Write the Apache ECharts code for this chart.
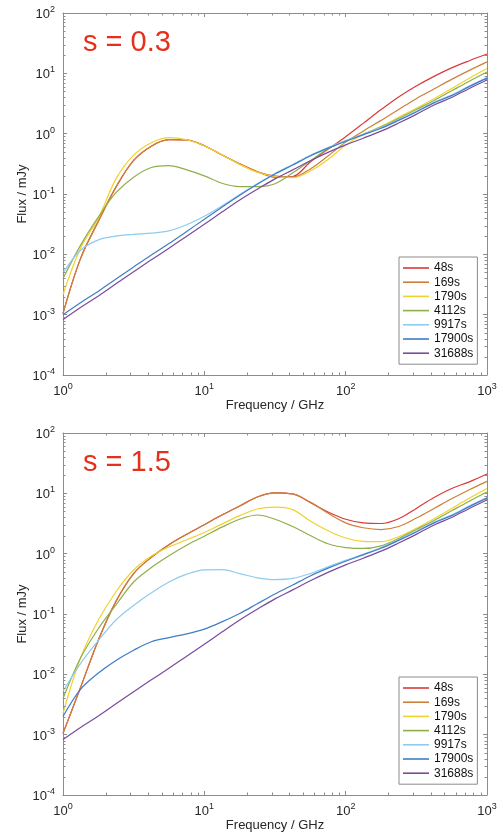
<!DOCTYPE html>
<html><head><meta charset="utf-8">
<script src="https://cdn.jsdelivr.net/npm/echarts@6/dist/echarts.min.js"></script>
<style>html,body{margin:0;padding:0;background:#fff}#c{width:503px;height:833px}</style>
</head><body><div id="c"></div>
<script>
// Frequencies (GHz)
const freq = [1, 1.33, 1.78, 2.37, 3.16, 4.22, 5.62, 7.5, 10, 13.3, 17.8, 23.7, 31.6, 42.2, 56.2, 75, 100, 133, 178, 237, 316, 422, 562, 750, 1000];
const seriesNames = ['48s', '169s', '1790s', '4112s', '9917s', '17900s', '31688s'];
const panelTitles = ['s = 0.3', 's = 1.5'];

// Panel 1 (s = 0.3), flux in mJy
const a48    = [1.05e-3, 8.5e-3, 0.0355, 0.13, 0.36, 0.62, 0.794, 0.785, 0.631, 0.447, 0.316, 0.234, 0.19, 0.195, 0.339, 0.55, 0.891, 1.48, 2.51, 4.07, 6.17, 8.91, 12.3, 16.2, 20.9];
const a169   = [1.05e-3, 8.5e-3, 0.0355, 0.13, 0.36, 0.62, 0.794, 0.785, 0.631, 0.447, 0.316, 0.234, 0.20, 0.191, 0.26, 0.427, 0.724, 1.10, 1.66, 2.51, 3.80, 5.50, 7.94, 11.2, 15.5];
const a1790  = [2.14e-3, 0.0126, 0.0398, 0.178, 0.44, 0.708, 0.861, 0.794, 0.631, 0.447, 0.309, 0.229, 0.195, 0.186, 0.240, 0.372, 0.646, 0.977, 1.32, 1.86, 2.63, 3.80, 5.62, 8.32, 12.0];
const a4112  = [3.98e-3, 0.0141, 0.0417, 0.105, 0.19, 0.275, 0.295, 0.251, 0.2, 0.151, 0.133, 0.133, 0.148, 0.224, 0.355, 0.562, 0.759, 0.977, 1.29, 1.78, 2.51, 3.55, 5.13, 7.41, 10.5];
const a9917  = [4.9e-3, 0.0117, 0.0174, 0.0200, 0.0214, 0.0224, 0.0245, 0.0309, 0.0427, 0.0631, 0.0977, 0.148, 0.219, 0.309, 0.437, 0.589, 0.767, 0.977, 1.26, 1.70, 2.34, 3.31, 4.37, 6.17, 8.51];
const a17900 = [0.001, 0.00158, 0.00245, 0.00389, 0.00617, 0.00977, 0.0151, 0.024, 0.038, 0.0603, 0.0955, 0.145, 0.214, 0.302, 0.427, 0.575, 0.75, 0.955, 1.23, 1.66, 2.29, 3.24, 4.27, 6.03, 8.32];
const a31688 = [8.32e-4, 1.32e-3, 2.04e-3, 3.24e-3, 5.13e-3, 8.13e-3, 0.0126, 0.02, 0.0316, 0.0501, 0.0794, 0.120, 0.178, 0.251, 0.355, 0.490, 0.653, 0.841, 1.10, 1.50, 2.09, 2.99, 3.98, 5.62, 7.76];

// Panel 2 (s = 1.5), flux in mJy
const b48    = [1.05e-3, 6.03e-3, 0.0372, 0.162, 0.468, 0.871, 1.41, 2.09, 3.02, 4.37, 6.17, 8.71, 10.2, 9.77, 7.08, 4.90, 3.72, 3.24, 3.16, 3.80, 5.62, 8.51, 12.0, 15.5, 20.9];
const b169   = [1.05e-3, 6.03e-3, 0.0372, 0.162, 0.468, 0.871, 1.41, 2.09, 3.02, 4.37, 6.17, 8.71, 10.2, 9.77, 7.08, 4.68, 3.24, 2.69, 2.51, 2.82, 3.89, 5.62, 8.13, 11.5, 15.8];
const b1790  = [2.24e-3, 0.0186, 0.0794, 0.234, 0.537, 0.912, 1.29, 1.70, 2.24, 3.09, 4.27, 5.50, 5.89, 5.37, 3.47, 2.40, 1.82, 1.60, 1.58, 1.91, 2.63, 3.80, 5.62, 8.32, 12.0];
const b4112  = [3.98e-3, 0.0186, 0.0575, 0.141, 0.339, 0.589, 0.923, 1.38, 1.95, 2.75, 3.72, 4.37, 3.72, 2.82, 2.0, 1.46, 1.26, 1.22, 1.35, 1.78, 2.51, 3.55, 5.13, 7.41, 10.5];
const b9917  = [5.25e-3, 0.0151, 0.0363, 0.0794, 0.138, 0.224, 0.339, 0.457, 0.537, 0.543, 0.468, 0.398, 0.372, 0.389, 0.468, 0.603, 0.776, 0.977, 1.26, 1.70, 2.34, 3.31, 4.37, 6.17, 8.51];
const b17900 = [2.0e-3, 5.62e-3, 0.0105, 0.017, 0.0251, 0.0347, 0.0407, 0.0468, 0.0562, 0.0741, 0.102, 0.148, 0.214, 0.302, 0.427, 0.575, 0.75, 0.955, 1.23, 1.66, 2.29, 3.24, 4.27, 6.03, 8.32];
const b31688 = [8.32e-4, 1.32e-3, 2.04e-3, 3.24e-3, 5.13e-3, 8.13e-3, 0.0126, 0.02, 0.0316, 0.0501, 0.0794, 0.120, 0.178, 0.251, 0.355, 0.490, 0.653, 0.841, 1.10, 1.50, 2.09, 2.99, 3.98, 5.62, 7.76];

const panels = [
  [a48, a169, a1790, a4112, a9917, a17900, a31688],
  [b48, b169, b1790, b4112, b9917, b17900, b31688]
];

const colors = ['#da3a3a', '#cc8038', '#f0d22c', '#8fae4b', '#8ecbee', '#3d7ec6', '#7b4b9b'];
const FONT = '"Liberation Sans", Arial, Helvetica, sans-serif';
const AXIS_COLOR = '#8c8c8c';
const LABEL_COLOR = '#262626';

const xMin = 1, xMax = 1000, yMin = 1e-4, yMax = 100;

const gridTops = [13, 433];
const gridH = 362, gridL = 63, gridW = 424;

function powLabel(v) {
  const e = Math.round(Math.log10(v));
  return '{b|10}{s|' + e + '}';
}
const rich = {
  b: { fontSize: 13, color: LABEL_COLOR, fontFamily: FONT, verticalAlign: 'bottom' },
  s: { fontSize: 9, color: LABEL_COLOR, fontFamily: FONT, verticalAlign: 'bottom', padding: [0, 0, 7, 0] }
};

const grids = [], xAxes = [], yAxes = [], series = [], legends = [], graphics = [];

// minor tick positions (axis decoration)
const xMinor = [], yMinor = [];
for (let d = 0; d < 3; d++) for (let m = 2; m <= 9; m++) xMinor.push(m * Math.pow(10, d));
for (let d = -4; d < 2; d++) for (let m = 2; m <= 9; m++) yMinor.push(m * Math.pow(10, d));

panels.forEach((data, p) => {
  grids.push({ left: gridL, top: gridTops[p], width: gridW, height: gridH, containLabel: false });
  const baseAxis = {
    type: 'log', logBase: 10, gridIndex: p,
    axisLine: { show: true, onZero: false, lineStyle: { color: AXIS_COLOR, width: 1 } },
    axisTick: { show: true, inside: true, length: 4, lineStyle: { color: AXIS_COLOR } },
    splitLine: { show: false }, minorTick: { show: false }
  };
  xAxes.push(Object.assign({}, baseAxis, {
    min: xMin, max: xMax, position: 'bottom',
    axisLabel: { formatter: powLabel, rich: rich, margin: 7 },
    name: 'Frequency / GHz', nameLocation: 'middle', nameGap: 24, nameMoveOverlap: false,
    nameTextStyle: { fontSize: 13, color: LABEL_COLOR, fontFamily: FONT }
  }));
  xAxes.push(Object.assign({}, baseAxis, { min: xMin, max: xMax, position: 'top', axisLabel: { show: false } }));
  yAxes.push(Object.assign({}, baseAxis, {
    min: yMin, max: yMax, position: 'left',
    axisLabel: { formatter: powLabel, rich: rich, margin: 8 },
    name: 'Flux / mJy', nameLocation: 'middle', nameGap: 34, nameMoveOverlap: false,
    nameTextStyle: { fontSize: 13, color: LABEL_COLOR, fontFamily: FONT }
  }));
  yAxes.push(Object.assign({}, baseAxis, { min: yMin, max: yMax, position: 'right', axisLabel: { show: false } }));

  data.forEach((vals, i) => {
    series.push({
      type: 'line', name: seriesNames[i], xAxisIndex: 2 * p, yAxisIndex: 2 * p,
      data: freq.map((f, k) => [f, vals[k]]),
      showSymbol: false, symbol: 'none', smooth: 0.35,
      lineStyle: { color: colors[i], width: 1.2 }, itemStyle: { color: colors[i] },
      z: 2 + i, silent: true
    });
  });

  const tickData = xMinor.map(v => [v, yMin, 0]).concat(yMinor.map(v => [xMin, v, 1]));
  series.push({
    type: 'custom', xAxisIndex: 2 * p, yAxisIndex: 2 * p, silent: true, z: 20,
    data: tickData,
    renderItem: function (params, api) {
      const kind = api.value(2);
      const st = { stroke: AXIS_COLOR, lineWidth: 1 };
      const L = 2.5;
      if (kind === 0) {
        const v = api.value(0);
        const pb = api.coord([v, yMin]), pt = api.coord([v, yMax]);
        const x = Math.round(pb[0]) + 0.5;
        return { type: 'group', children: [
          { type: 'line', shape: { x1: x, y1: pb[1], x2: x, y2: pb[1] - L }, style: st },
          { type: 'line', shape: { x1: x, y1: pt[1], x2: x, y2: pt[1] + L }, style: st }
        ] };
      } else {
        const v = api.value(1);
        const pl = api.coord([xMin, v]), pr = api.coord([xMax, v]);
        const y = Math.round(pl[1]) + 0.5;
        return { type: 'group', children: [
          { type: 'line', shape: { x1: pl[0], y1: y, x2: pl[0] + L, y2: y }, style: st },
          { type: 'line', shape: { x1: pr[0], y1: y, x2: pr[0] - L, y2: y }, style: st }
        ] };
      }
    }
  });

  legends.push({
    orient: 'vertical', left: 399, top: gridTops[p] + 244,
    data: seriesNames.map(n => ({ name: n, icon: 'rect' })),
    itemWidth: 26, itemHeight: 1.6, itemGap: 0.2,
    padding: [4, 4, 4, 4],
    textStyle: { fontSize: 12, color: '#111', fontFamily: FONT, lineHeight: 14 },
    borderColor: AXIS_COLOR, borderWidth: 1, borderRadius: 0, backgroundColor: '#fff',
    selectedMode: false
  });

  graphics.push({
    type: 'text', left: 83, top: gridTops[p] + 15,
    style: { text: panelTitles[p], fontSize: 29, fill: '#e5301c', fontFamily: FONT }
  });
});

const chart = echarts.init(document.getElementById('c'), null, { renderer: 'canvas' });
chart.setOption({
  backgroundColor: '#ffffff',
  animation: false,
  grid: grids, xAxis: xAxes, yAxis: yAxes,
  legend: legends, series: series, graphic: graphics
});
</script></body></html>
